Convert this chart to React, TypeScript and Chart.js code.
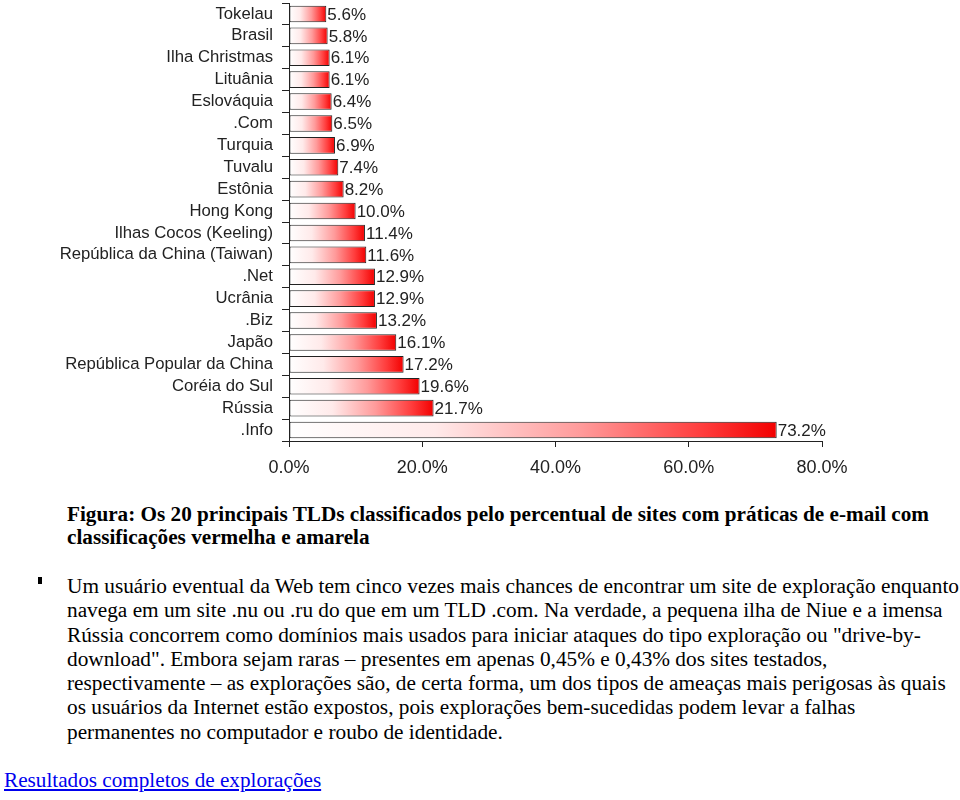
import React, { useEffect, useRef } from "react";
import { Chart, registerables } from "chart.js";

Chart.register(...registerables);

const categories = [
  "Tokelau",
  "Brasil",
  "Ilha Christmas",
  "Lituânia",
  "Eslováquia",
  ".Com",
  "Turquia",
  "Tuvalu",
  "Estônia",
  "Hong Kong",
  "Ilhas Cocos (Keeling)",
  "República da China (Taiwan)",
  ".Net",
  "Ucrânia",
  ".Biz",
  "Japão",
  "República Popular da China",
  "Coréia do Sul",
  "Rússia",
  ".Info",
];
const values = [5.6, 5.8, 6.1, 6.1, 6.4, 6.5, 6.9, 7.4, 8.2, 10.0, 11.4, 11.6, 12.9, 12.9, 13.2, 16.1, 17.2, 19.6, 21.7, 73.2];
const xMin = 0;
const xMax = 80;
const xStep = 20;

const captionLines = [
  "Figura: Os 20 principais TLDs classificados pelo percentual de sites com práticas de e-mail com",
  "classificações vermelha e amarela",
];
const bulletLines = [
  "Um usuário eventual da Web tem cinco vezes mais chances de encontrar um site de exploração enquanto",
  "navega em um site .nu ou .ru do que em um TLD .com. Na verdade, a pequena ilha de Niue e a imensa",
  "Rússia concorrem como domínios mais usados para iniciar ataques do tipo exploração ou \"drive-by-",
  "download\". Embora sejam raras – presentes em apenas 0,45% e 0,43% dos sites testados,",
  "respectivamente – as explorações são, de certa forma, um dos tipos de ameaças mais perigosas às quais",
  "os usuários da Internet estão expostos, pois explorações bem-sucedidas podem levar a falhas",
  "permanentes no computador e roubo de identidade.",
];
const linkText = "Resultados completos de explorações";

const valueLabelPlugin = {
  id: "valueLabels",
  afterDatasetsDraw(chart: any) {
    const ctx = chart.ctx;
    const meta = chart.getDatasetMeta(0);
    ctx.save();
    ctx.font = '17px "Liberation Sans", Arial, sans-serif';
    ctx.fillStyle = "#222";
    ctx.textAlign = "left";
    ctx.textBaseline = "middle";
    meta.data.forEach((el: any, i: number) => {
      ctx.fillText(values[i].toFixed(1) + "%", el.x + 1, el.y + 1);
    });
    ctx.restore();
  },
};

function BarChart() {
  const ref = useRef<HTMLCanvasElement | null>(null);
  useEffect(() => {
    if (!ref.current) return;
    const chart = new Chart(ref.current, {
      type: "bar",
      data: {
        labels: categories,
        datasets: [
          {
            data: values,
            borderColor: "#222",
            borderWidth: 1,
            borderSkipped: false,
            barPercentage: 0.76,
            categoryPercentage: 1,
            backgroundColor: (c: any) => {
              const ch = c.chart;
              const xs = ch.scales && ch.scales.x;
              if (!xs || c.type !== "data") return "#f00";
              const v = values[c.dataIndex];
              const x0 = xs.getPixelForValue(0);
              const x1 = xs.getPixelForValue(v);
              if (!isFinite(x0) || !isFinite(x1) || x1 <= x0) return "#f00";
              const g = ch.ctx.createLinearGradient(x0, 0, x1, 0);
              g.addColorStop(0, "#ffffff");
              g.addColorStop(0.3, "#ffeaea");
              g.addColorStop(0.6, "#ff9a9a");
              g.addColorStop(0.85, "#ff3c3c");
              g.addColorStop(1, "#f20000");
              return g;
            },
          },
        ],
      },
      options: {
        indexAxis: "y",
        animation: false,
        responsive: false,
        maintainAspectRatio: false,
        layout: { padding: { left: 0, right: 138, top: 3, bottom: 0 } },
        plugins: { legend: { display: false }, tooltip: { enabled: false } },
        scales: {
          x: {
            min: xMin,
            max: xMax,
            afterFit: (s: any) => {
              s.height = 39;
            },
            ticks: {
              stepSize: xStep,
              color: "#222",
              padding: 10,
              font: { family: '"Liberation Sans", Arial, sans-serif', size: 18 },
              callback: (v: any) => Number(v).toFixed(1) + "%",
            },
            grid: { drawOnChartArea: false, tickLength: 6, color: "#222", tickColor: "#222" },
            border: { color: "#222", width: 1 },
          },
          y: {
            afterFit: (s: any) => {
              s.width = 289;
              s.paddingTop = 0;
              s.paddingBottom = 0;
            },
            ticks: {
              autoSkip: false,
              color: "#222",
              padding: 9,
              font: { family: '"Liberation Sans", Arial, sans-serif', size: 16.7 },
            },
            grid: { drawOnChartArea: false, offset: true, tickLength: 7, color: "#222", tickColor: "#222" },
            border: { color: "#222", width: 1 },
          },
        },
      },
      plugins: [valueLabelPlugin],
    } as any);
    return () => chart.destroy();
  }, []);
  return <canvas ref={ref} width={960} height={480} style={{ display: "block", width: 960, height: 480 }} />;
}

export default function App() {
  const serif = '"Liberation Serif", "Times New Roman", serif';
  return (
    <div style={{ position: "absolute", left: 0, top: 0, width: 960, height: 800, background: "#fff", fontFamily: serif, color: "#000" }}>
      <div style={{ position: "absolute", left: 0, top: 0 }}>
        <BarChart />
      </div>
      <div style={{ position: "absolute", left: 67, top: 503, fontSize: 21.2, fontWeight: "bold", lineHeight: "23px", whiteSpace: "nowrap" }}>
        {captionLines.map((l, i) => (
          <div key={i}>{l}</div>
        ))}
      </div>
      <span style={{ position: "absolute", left: 38, top: 577, width: 4, height: 7, background: "#000" }} />
      <div style={{ position: "absolute", left: 67, top: 574, fontSize: 21.3, lineHeight: "24.3px", whiteSpace: "nowrap" }}>
        {bulletLines.map((l, i) => (
          <div key={i}>{l}</div>
        ))}
      </div>
      <a href="#" style={{ position: "absolute", left: 4, top: 768, fontSize: 21.2, lineHeight: "24px", color: "#0000ee", textDecoration: "underline", whiteSpace: "nowrap" }}>
        {linkText}
      </a>
    </div>
  );
}
